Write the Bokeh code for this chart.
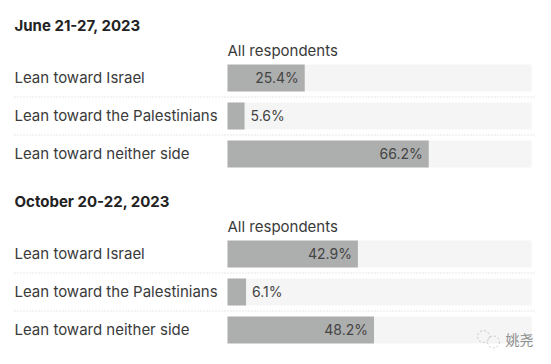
from bokeh.plotting import figure
from bokeh.layouts import column
from bokeh.models import Range1d
from bokeh.core.properties import value
from bokeh.embed import file_html
from bokeh.resources import INLINE

categories = ["Lean toward Israel", "Lean toward the Palestinians", "Lean toward neither side"]
june_values = [25.4, 5.6, 66.2]
october_values = [42.9, 6.1, 48.2]
panel_titles = ["June 21-27, 2023", "October 20-22, 2023"]
column_label = "All respondents"
watermark = "姚尧"

W = 551
PX_PER_PCT = 3.04
X0_PX = 227
ROW_PX = 38
ROW0_PX = 77.5
FONT = value("Inter")


def xd(px):
    return (px - X0_PX) / PX_PER_PCT


def yd(px):
    return (px - ROW0_PX) / ROW_PX


def panel(title, vals, height, title_px, mark=False):
    p = figure(width=W, height=height, output_backend="svg", toolbar_location=None,
               x_range=Range1d(xd(0), xd(W)), y_range=Range1d(yd(height), yd(0)),
               min_border=0, outline_line_color=None, background_fill_color="white")
    p.axis.visible = False
    p.grid.visible = False
    rows = list(range(len(categories)))
    p.hbar(y=rows, left=0, right=100, height=27 / ROW_PX, fill_color="#f5f5f5", line_color=None)
    p.hbar(y=rows, left=0, right=vals, height=27 / ROW_PX, fill_color="#adafae", line_color=None)
    p.segment(x0=xd(14), x1=xd(535), y0=[r + 0.5 for r in rows[:-1]], y1=[r + 0.5 for r in rows[:-1]],
              line_color="#cfcfcf", line_width=1, line_dash="1 2")
    p.text(x=xd(14), y=rows, text=categories, y_offset=-1, text_font=FONT, text_font_size="15px",
           text_color="#3a3a3a", text_baseline="middle", text_align="left")
    inside = [i for i, v in enumerate(vals) if v >= 15]
    outside = [i for i, v in enumerate(vals) if v < 15]
    p.text(x=[vals[i] for i in inside], y=inside, text=[f"{vals[i]}%" for i in inside],
           x_offset=-6, y_offset=-1, text_font=FONT, text_font_size="14px", text_color="#444444",
           text_baseline="middle", text_align="right")
    p.text(x=[vals[i] for i in outside], y=outside, text=[f"{vals[i]}%" for i in outside],
           x_offset=6, y_offset=-1, text_font=FONT, text_font_size="14px", text_color="#444444",
           text_baseline="middle", text_align="left")
    p.text(x=[xd(X0_PX)], y=[yd(49.5)], text=[column_label], text_font=FONT, text_font_size="15px",
           text_color="#3a3a3a", text_baseline="middle", text_align="left")
    p.text(x=[xd(14)], y=[yd(title_px)], text=[title], text_font=FONT, text_font_size="15px",
           text_font_style="bold", text_color="#222222", text_baseline="middle", text_align="left")
    if mark:
        p.text(x=[xd(533)], y=[yd(162)], text=[watermark], text_font=value("Noto Sans CJK SC"),
               text_font_size="14px", text_color="#8f8f8f", text_baseline="middle", text_align="right")
        p.circle(x=[xd(483), xd(493)], y=[yd(160), yd(165.5)], radius=[6 / PX_PER_PCT, 6 / PX_PER_PCT],
                 fill_color=None, line_color="#c8c8c8", line_dash="2 2", line_width=1)
    return p


p1 = panel(panel_titles[0], june_values, 176, 25)
p2 = panel(panel_titles[1], october_values, 188, 25, mark=True)
layout = column(p1, p2, spacing=0)
open("out.html", "w").write(file_html(layout, INLINE))
